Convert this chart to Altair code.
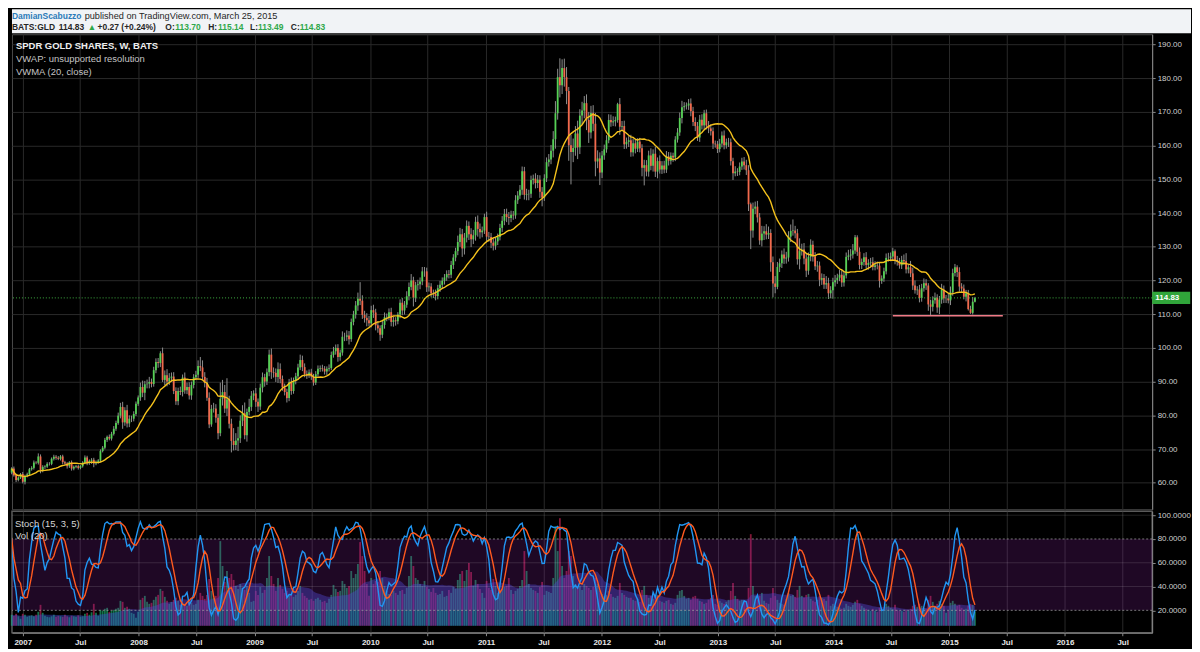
import altair as alt
import pandas as pd
import numpy as np

FONT = "Liberation Sans"

# ---------------- weekly GLD data ----------------
START_WEEK = "2006-11-27"
FIRST_OPEN = 63.0
LAST_PRICE = 114.83

CLOSE_2006 = [64.2, 62.2, 60.8, 61.5, 62.6]
CLOSE_2007 = [60.3, 62.0, 62.5, 64.0, 64.4, 66.0, 65.9, 67.8, 63.8, 64.7, 64.8, 65.6, 65.6,
              67.1, 67.7, 67.4, 67.1, 67.8, 66.1, 65.7, 64.9, 66.1, 64.2, 64.7, 64.9, 64.4,
              64.9, 66.0, 67.5, 65.8, 66.5, 66.8, 65.7, 66.1, 66.6, 69.4, 70.4, 72.7, 73.6,
              73.1, 74.5, 76.0, 77.7, 79.9, 82.5, 77.9, 81.5, 77.6, 79.0, 79.0, 80.4, 83.4, 85.3]
CLOSE_2008 = [88.4, 86.7, 89.2, 89.4, 89.9, 89.3, 93.4, 95.8, 95.5, 98.4, 90.5, 91.9, 90.0,
              91.1, 91.5, 87.2, 84.2, 87.2, 86.9, 91.2, 87.4, 88.4, 85.9, 89.0, 91.3, 92.0,
              94.6, 94.2, 91.4, 89.6, 85.2, 77.3, 81.9, 82.0, 79.3, 74.7, 84.9, 86.9, 82.0,
              84.7, 77.5, 72.4, 71.2, 72.5, 73.2, 78.4, 80.6, 74.1, 81.0, 82.5, 85.8, 86.5]
CLOSE_2009 = [84.0, 82.6, 88.2, 91.3, 90.0, 92.8, 98.0, 92.8, 92.6, 91.4, 93.7, 90.8, 88.3,
              86.9, 85.1, 89.8, 87.2, 90.2, 91.6, 94.2, 96.4, 94.3, 92.3, 91.9, 92.7, 91.5,
              89.7, 92.2, 93.8, 94.0, 93.8, 93.0, 93.8, 94.0, 97.9, 99.0, 100.0, 97.3, 98.6,
              103.3, 103.3, 103.7, 102.6, 107.7, 109.9, 112.6, 114.6, 114.0, 109.8, 108.9, 108.2, 107.3]
CLOSE_2010 = [111.2, 110.5, 106.7, 105.8, 103.9, 106.8, 109.1, 109.2, 110.6, 107.7, 108.2, 107.9, 109.9,
              113.4, 111.1, 112.8, 115.3, 118.1, 120.0, 114.9, 118.6, 118.9, 119.7, 122.7, 122.7, 118.0,
              118.2, 116.2, 116.1, 115.4, 117.7, 118.7, 119.9, 120.9, 121.9, 121.7, 124.6, 126.8, 128.7,
              131.4, 133.7, 129.5, 132.7, 136.2, 133.7, 132.2, 133.4, 137.4, 135.3, 134.3, 134.8, 138.8]
CLOSE_2011 = [133.0, 132.9, 131.2, 130.3, 131.6, 132.9, 135.6, 137.7, 139.7, 138.8, 138.5, 139.5, 139.3,
              143.8, 145.2, 146.9, 152.4, 145.4, 145.6, 145.7, 149.8, 150.2, 148.9, 149.9, 146.3, 144.6,
              150.3, 155.1, 155.9, 158.5, 161.9, 169.6, 180.3, 177.9, 183.0, 180.3, 176.2, 160.1, 158.1,
              159.3, 163.6, 159.5, 168.9, 170.4, 172.6, 167.6, 163.9, 169.7, 166.5, 155.3, 156.2, 152.0]
CLOSE_2012 = [157.1, 158.9, 161.6, 167.6, 166.9, 167.2, 167.6, 172.3, 165.6, 165.8, 160.4, 161.1, 161.6,
              158.0, 160.7, 159.1, 161.2, 159.2, 153.4, 154.2, 152.3, 157.1, 154.0, 157.6, 152.3, 155.4,
              152.9, 154.1, 152.9, 156.8, 155.5, 157.0, 156.5, 161.8, 163.9, 168.2, 171.4, 171.7, 171.9,
              172.5, 170.2, 167.0, 165.8, 162.4, 167.7, 166.0, 169.6, 166.0, 165.1, 164.3, 160.6, 160.4, 159.0]
CLOSE_2013 = [160.6, 163.0, 160.1, 161.0, 161.0, 155.4, 151.8, 152.3, 152.2, 153.8, 155.3, 154.2,
              152.7, 142.6, 134.8, 141.3, 141.9, 138.7, 131.9, 133.9, 134.6, 133.6, 134.1, 125.4, 119.1,
              118.1, 124.0, 125.1, 127.7, 126.5, 126.8, 133.0, 134.7, 134.8, 134.0, 126.3, 128.7, 129.2, 126.5,
              122.9, 127.0, 130.6, 127.1, 124.2, 124.4, 120.2, 120.7, 118.8, 119.2, 116.2, 117.1, 119.5]
CLOSE_2014 = [120.1, 120.8, 121.7, 119.4, 121.5, 127.0, 127.4, 127.7, 128.9, 132.8, 128.5, 124.6, 125.5,
              126.9, 124.6, 125.2, 125.4, 124.0, 124.5, 124.4, 119.9, 120.6, 122.7, 126.7, 126.7, 127.1,
              128.7, 126.0, 125.5, 124.5, 126.1, 125.7, 123.3, 123.9, 122.1, 118.5, 117.1, 117.3, 114.8,
              117.7, 119.2, 118.5, 112.9, 112.2, 114.1, 114.9, 112.0, 114.3, 117.3, 114.7, 114.7, 114.1]
CLOSE_2015 = [116.5, 122.2, 123.9, 122.5, 118.2, 117.6, 115.2, 116.2, 111.5, 110.4, 113.7, 114.83]

# upper / lower wick lengths beyond the candle body
UP_2006 = [0.4, 0.6, 0.5, 0.4, 0.3]
DN_2006 = [0.5, 0.4, 0.6, 0.4, 0.4]
UP_2007 = [0.6, 0.4, 0.5, 0.4, 0.5, 0.6, 0.4, 0.9, 0.6, 0.5, 0.4, 0.5, 0.5, 0.4, 0.6, 0.5, 0.5, 0.4,
           0.5, 0.4, 0.4, 0.3, 0.5, 0.4, 0.4, 0.5, 0.3, 0.4, 0.6, 0.5, 0.4, 0.5, 0.6, 0.5, 0.4, 0.5,
           0.5, 0.6, 0.4, 0.7, 0.6, 0.8, 0.7, 0.9, 1.2, 1.5, 0.9, 1.6, 1.0, 0.9, 0.8, 0.7, 0.6]
DN_2007 = [0.5, 0.8, 0.4, 0.5, 0.4, 0.5, 0.4, 0.5, 1.0, 0.7, 0.6, 0.4, 0.5, 0.4, 0.5, 0.6, 0.4, 0.5,
           0.6, 0.5, 0.7, 0.5, 0.6, 0.5, 0.4, 0.5, 0.4, 0.4, 0.5, 0.6, 0.5, 0.9, 1.1, 0.5, 0.4, 0.5,
           0.4, 0.5, 0.6, 0.5, 0.6, 0.5, 0.6, 0.5, 0.8, 1.9, 1.0, 1.2, 1.1, 1.0, 0.8, 0.6, 0.6]
UP_2008 = [1.3, 1.9, 1.0, 1.2, 1.5, 1.0, 1.0, 1.1, 1.2, 0.6, 1.7, 1.4, 1.8, 1.4, 1.2, 1.3, 1.1,
           1.0, 1.3, 0.9, 1.5, 1.3, 1.4, 1.0, 0.9, 1.2, 1.7, 2.7, 2.1, 1.4, 1.5, 1.6, 1.2, 1.7,
           1.3, 1.1, 4.8, 3.6, 2.1, 6.3, 1.1, 1.5, 3.8, 2.2, 3.4, 1.6, 2.4, 3.2, 1.0, 2.4, 1.4, 0.9]
DN_2008 = [1.0, 1.3, 2.2, 1.2, 1.4, 1.0, 0.8, 0.9, 1.4, 1.2, 0.6, 1.6, 1.4, 1.0, 1.2, 0.9, 1.1,
           1.2, 0.9, 1.3, 1.0, 1.1, 1.2, 1.3, 1.0, 0.8, 0.9, 1.1, 0.8, 1.3, 0.9, 1.1, 0.7, 1.1,
           1.5, 1.8, 0.9, 2.0, 1.3, 2.2, 1.4, 3.4, 1.6, 1.5, 3.1, 1.4, 1.6, 1.2, 1.9, 1.0, 1.2, 1.3]
UP_2009 = [1.6, 1.0, 1.2, 1.4, 1.0, 1.1, 1.5, 1.8, 1.4, 1.3, 2.0, 1.7, 1.0, 1.1, 1.0, 1.0, 1.4,
           1.0, 1.0, 1.1, 1.6, 1.3, 1.1, 1.0, 0.9, 1.1, 0.8, 0.9, 1.0, 0.8, 1.0, 0.8, 0.7, 1.1, 1.0,
           1.3, 1.0, 1.1, 0.9, 1.6, 1.2, 1.5, 1.3, 1.0, 1.1, 1.3, 1.8, 4.9, 1.6, 1.2, 1.4, 1.3]
DN_2009 = [1.5, 1.6, 1.0, 1.4, 1.5, 1.0, 1.2, 2.0, 1.4, 1.5, 1.8, 1.3, 1.0, 1.0, 1.3, 0.9, 1.1,
           0.8, 1.0, 0.9, 0.8, 1.2, 1.0, 1.1, 0.8, 1.0, 0.9, 0.7, 0.8, 0.9, 0.8, 0.9, 1.0, 0.8, 0.6,
           0.8, 1.0, 1.4, 1.1, 0.9, 1.3, 1.2, 1.6, 0.8, 1.0, 1.2, 1.6, 1.3, 1.2, 1.4, 1.8, 0.9]
UP_2010 = [1.3, 1.6, 1.1, 1.2, 0.9, 1.2, 1.4, 1.0, 1.1, 1.3, 1.0, 0.9, 0.7, 1.0, 1.4, 1.1, 1.5,
           1.3, 1.9, 1.1, 1.0, 1.3, 1.2, 1.3, 1.3, 1.1, 1.2, 1.0, 1.1, 1.2, 1.0, 1.2, 1.0, 1.0, 1.1,
           1.2, 1.2, 1.0, 1.0, 1.9, 1.9, 1.6, 1.4, 1.6, 1.3, 1.8, 1.6, 1.5, 1.9, 1.6, 1.2, 1.0]
DN_2010 = [1.2, 1.6, 1.5, 1.3, 1.8, 1.0, 1.1, 1.2, 1.0, 1.3, 1.4, 1.3, 0.9, 1.1, 1.4, 1.2, 0.9,
           1.2, 1.0, 2.6, 1.3, 1.6, 1.5, 1.1, 1.6, 1.4, 1.3, 1.2, 1.3, 1.3, 1.0, 1.1, 1.2, 1.1, 1.0,
           1.1, 1.0, 1.2, 1.1, 1.2, 1.4, 2.5, 1.8, 1.4, 1.7, 2.3, 1.4, 1.6, 2.3, 1.9, 1.5, 1.0]
UP_2011 = [1.6, 1.4, 1.2, 1.1, 1.2, 1.0, 1.2, 1.4, 1.5, 1.6, 1.5, 1.2, 1.1, 1.5, 1.3, 1.4, 1.4,
           1.3, 1.6, 1.2, 1.3, 1.2, 1.6, 1.4, 1.3, 1.4, 1.2, 1.4, 1.6, 1.7, 2.4, 3.6, 2.5, 5.6, 2.6,
           2.8, 3.0, 1.2, 3.1, 2.8, 2.2, 3.8, 1.9, 2.6, 2.1, 2.6, 2.4, 2.1, 2.3, 3.2, 2.4, 1.8]
DN_2011 = [1.3, 1.4, 1.6, 1.4, 1.2, 1.1, 1.0, 1.2, 1.3, 1.5, 2.0, 1.2, 1.3, 1.0, 1.1, 1.0, 1.5,
           1.4, 1.6, 1.8, 1.2, 1.3, 1.6, 1.5, 1.8, 2.6, 1.0, 1.1, 1.3, 1.4, 2.0, 2.8, 1.9, 3.6, 2.6,
           2.8, 3.9, 4.6, 9.6, 3.0, 2.3, 3.5, 2.0, 2.6, 2.3, 3.0, 3.1, 1.8, 2.2, 4.4, 2.0, 3.7]
UP_2012 = [1.3, 1.4, 1.5, 1.7, 1.6, 1.5, 1.0, 0.4, 1.8, 1.5, 1.6, 1.3, 1.2, 1.6, 1.4, 1.2, 1.0, 1.1,
           1.2, 1.6, 1.5, 1.4, 2.1, 1.3, 2.0, 1.1, 1.7, 1.3, 1.4, 1.6, 1.3, 1.0, 0.9, 1.0, 1.3,
           1.6, 1.9, 1.2, 0.9, 1.3, 1.5, 1.3, 1.4, 1.2, 1.4, 1.6, 1.0, 1.1, 1.3, 1.2, 1.1, 0.9, 1.0]
DN_2012 = [1.6, 1.3, 1.0, 0.9, 1.3, 1.1, 1.5, 0.8, 2.4, 1.2, 1.4, 1.3, 1.5, 1.3, 1.2, 1.4, 1.0, 1.2,
           2.5, 5.2, 1.4, 1.5, 1.3, 1.7, 1.6, 2.0, 1.2, 1.3, 1.1, 1.0, 1.4, 1.1, 1.3, 1.1, 0.9,
           1.0, 1.6, 1.2, 1.0, 1.3, 1.5, 1.2, 1.5, 1.0, 1.3, 1.2, 1.1, 1.2, 1.4, 1.3, 1.6, 1.0, 1.2]
UP_2013 = [1.4, 1.2, 1.5, 1.1, 1.3, 1.1, 1.0, 1.6, 1.0, 1.2, 1.1, 1.3, 1.6, 1.5, 0.5, 1.8, 1.5,
           1.7, 1.3, 2.3, 1.5, 2.1, 1.9, 1.1, 1.7, 2.2, 1.5, 1.4, 1.2, 1.8, 1.7, 1.6, 1.9, 3.3,
           1.4, 1.3, 3.8, 1.7, 1.9, 1.6, 1.3, 1.6, 1.2, 1.3, 1.4, 1.2, 1.4, 1.2, 2.1, 1.6, 1.2, 1.3]
DN_2013 = [1.0, 1.1, 1.2, 1.0, 1.4, 1.3, 2.0, 0.9, 1.2, 1.0, 1.0, 1.3, 1.4, 2.0, 5.5, 2.1, 1.6,
           1.5, 1.3, 1.8, 1.9, 1.4, 1.3, 2.8, 4.1, 1.9, 0.7, 1.5, 1.4, 1.6, 1.5, 1.2, 1.6, 1.4,
           1.5, 1.6, 3.0, 1.3, 1.7, 1.9, 1.2, 1.3, 1.5, 1.1, 1.6, 1.9, 1.5, 1.3, 1.3, 1.7, 1.5, 2.5]
UP_2014 = [1.5, 1.2, 1.4, 1.3, 1.0, 1.3, 1.7, 1.6, 1.9, 0.7, 0.6, 1.3, 1.0, 1.2, 1.5, 1.1, 1.3,
           1.5, 1.2, 1.1, 1.0, 0.9, 1.1, 1.3, 1.5, 1.2, 1.0, 0.5, 1.3, 1.2, 1.2, 1.6, 2.4, 1.0,
           1.9, 1.7, 1.5, 1.0, 1.4, 1.3, 1.4, 1.2, 0.7, 1.4, 1.2, 1.5, 1.0, 1.1, 1.7, 1.2, 1.0, 1.4]
DN_2014 = [1.3, 1.1, 1.0, 1.3, 1.2, 0.9, 1.0, 1.4, 1.2, 1.0, 1.2, 1.3, 1.2, 1.1, 1.2, 1.4, 1.2,
           1.0, 1.0, 1.1, 2.0, 0.9, 1.0, 0.9, 1.1, 1.0, 1.2, 1.2, 1.1, 1.0, 1.1, 1.0, 1.2, 1.2,
           1.1, 1.3, 1.0, 1.4, 1.3, 1.1, 1.0, 1.3, 1.9, 2.7, 1.4, 1.0, 1.6, 2.0, 1.2, 1.4, 1.4, 0.9]
UP_2015 = [1.7, 1.3, 1.0, 0.6, 1.4, 1.0, 1.2, 1.0, 1.0, 1.0, 1.4, 0.31]
DN_2015 = [1.4, 1.0, 1.0, 1.5, 1.5, 1.1, 0.8, 1.4, 0.4, 0.3, 0.5, 0.21]

# weekly volume, millions of shares
VOL_2006 = [22, 20, 24, 19, 14]
VOL_2007 = [24, 22, 18, 20, 21, 19, 22, 28, 42, 26, 20, 18, 17, 19, 22, 18, 20, 19, 18, 22, 19, 17,
            20, 19, 18, 21, 18, 19, 24, 26, 22, 27, 44, 26, 20, 32, 30, 34, 36, 28, 30, 32, 34, 36,
            50, 48, 36, 38, 34, 26, 24, 16, 28]
VOL_2008 = [52, 56, 60, 48, 44, 46, 52, 58, 62, 74, 70, 58, 50, 44, 48, 52, 56, 50, 42, 46, 44,
            40, 48, 46, 42, 44, 52, 66, 60, 54, 62, 94, 70, 56, 60, 96, 170, 120, 88, 110, 96, 104, 92,
            80, 74, 84, 76, 72, 80, 66, 48, 50]
VOL_2009 = [70, 62, 78, 66, 72, 96, 140, 100, 84, 70, 96, 82, 74, 66, 70, 60, 62, 58, 62, 70, 80,
            66, 60, 56, 52, 54, 50, 54, 56, 52, 48, 50, 46, 54, 62, 82, 74, 68, 70, 90, 84, 76, 80,
            110, 96, 104, 124, 168, 140, 110, 84, 60]
VOL_2010 = [96, 84, 90, 88, 110, 96, 80, 70, 64, 62, 70, 66, 62, 70, 72, 64, 76, 100, 140, 120, 96, 92,
            84, 80, 90, 78, 74, 68, 76, 66, 62, 64, 70, 58, 60, 72, 66, 78, 74, 92, 104, 110, 90,
            112, 126, 108, 80, 92, 84, 74, 66, 56]
VOL_2011 = [90, 76, 72, 94, 80, 66, 70, 74, 78, 80, 96, 72, 64, 70, 74, 80, 92, 150, 110, 84, 76, 72,
            70, 66, 78, 88, 62, 70, 68, 66, 96, 200, 150, 216, 120, 96, 110, 150, 140,
            100, 84, 76, 80, 72, 84, 80, 76, 72, 78, 96, 84, 70]
VOL_2012 = [64, 60, 62, 70, 64, 58, 56, 60, 86, 66, 62, 58, 56, 56, 52, 50, 54, 48, 72, 80, 62, 56,
            60, 54, 58, 62, 50, 48, 46, 50, 52, 44, 42, 46, 62, 70, 72, 60, 54, 56, 52, 58, 60, 54,
            50, 48, 44, 46, 52, 56, 62, 44, 42]
VOL_2013 = [50, 46, 44, 48, 52, 70, 86, 60, 54, 50, 52, 48, 50, 76, 184, 80, 60, 52, 60, 66, 50,
            46, 44, 56, 76, 60, 52, 46, 44, 42, 54, 66, 60, 62, 58, 72, 80, 60, 56, 62, 64, 54, 50,
            48, 52, 60, 56, 54, 50, 62, 40, 44]
VOL_2014 = [40, 38, 36, 34, 36, 44, 40, 38, 42, 48, 52, 44, 40, 36, 34, 32, 30, 34, 30, 28, 36,
            32, 30, 44, 40, 36, 34, 42, 32, 30, 30, 28, 32, 30, 34, 40, 42, 38, 44, 40, 36, 34, 52,
            60, 48, 40, 44, 50, 44, 40, 26, 30]
VOL_2015 = [46, 50, 44, 40, 42, 36, 32, 34, 40, 44, 42, 28]

YEARS = [
    (CLOSE_2006, UP_2006, DN_2006, VOL_2006), (CLOSE_2007, UP_2007, DN_2007, VOL_2007),
    (CLOSE_2008, UP_2008, DN_2008, VOL_2008), (CLOSE_2009, UP_2009, DN_2009, VOL_2009),
    (CLOSE_2010, UP_2010, DN_2010, VOL_2010), (CLOSE_2011, UP_2011, DN_2011, VOL_2011),
    (CLOSE_2012, UP_2012, DN_2012, VOL_2012), (CLOSE_2013, UP_2013, DN_2013, VOL_2013),
    (CLOSE_2014, UP_2014, DN_2014, VOL_2014), (CLOSE_2015, UP_2015, DN_2015, VOL_2015),
]
for i, (c, u, d, v) in enumerate(YEARS):
    assert len(c) == len(u) == len(d) == len(v), (2006 + i, len(c), len(u), len(d), len(v))

close = [x for y in YEARS for x in y[0]]
wup = [x for y in YEARS for x in y[1]]
wdn = [x for y in YEARS for x in y[2]]
vol = [x for y in YEARS for x in y[3]]
opens = [FIRST_OPEN] + close[:-1]

df = pd.DataFrame({
    "date": pd.date_range(START_WEEK, periods=len(close), freq="W-MON"),
    "open": opens, "close": close, "vol": vol,
})
df["high"] = np.maximum(df["open"], df["close"]) + np.array(wup)
df["low"] = np.minimum(df["open"], df["close"]) - np.array(wdn)
up = df["close"] >= df["open"]
df["body"] = np.where(up, "#55d155", "#f2694c")
df["vcol"] = np.where(up, "#1fbf7a", "#d8285c")
df["zero"] = 0.0
# indicators named in the chart legend
hh = df["high"].rolling(15, min_periods=1).max()
ll = df["low"].rolling(15, min_periods=1).min()
raw = 100 * (df["close"] - ll) / (hh - ll)
df["k"] = raw.rolling(3, min_periods=1).mean()
df["d"] = df["k"].rolling(5, min_periods=1).mean()
df["vwma"] = (df["close"] * df["vol"]).rolling(20, min_periods=1).sum() / df["vol"].rolling(20, min_periods=1).sum()
df["vma"] = df["vol"].rolling(20, min_periods=1).mean()

SUPPORT_LEVEL = 109.5
SUPPORT_FROM, SUPPORT_TO = "2014-07-07", "2015-06-19"

# ---------------- scales / axes ----------------
X_SCALE = alt.Scale(domain=[alt.DateTime(year=2006, month=11, date=28),
                            alt.DateTime(year=2016, month=10, date=2)], nice=False, padding=0)
TICKS = [alt.DateTime(year=y, month=m, date=1) for y in range(2007, 2017) for m in (1, 7)]
GRID = "#292929"
AXC = "#8a8a8a"
P_SCALE = alt.Scale(domain=[52.14, 193.04], nice=False, zero=False, padding=0)
S_SCALE = alt.Scale(domain=[1.17, 103.35], nice=False, zero=False, padding=0)
V_SCALE = alt.Scale(domain=[-14, 230], nice=False, zero=False, padding=0)

AX_XP = alt.Axis(values=TICKS, grid=True, gridColor=GRID, labels=False, ticks=False, domain=False, title=None)
AX_XS = alt.Axis(
    values=TICKS, grid=True, gridColor=GRID, title=None, domainColor=AXC, tickColor=AXC, tickSize=3,
    labelExpr="month(datum.value) == 0 ? timeFormat(datum.value, '%Y') : 'Jul'",
    labelColor="#e8e8e8", labelFontSize=8, labelFontWeight="bold", labelPadding=3, labelFont=FONT,
    labelFlush=False, labelOverlap=False)
AX_P = alt.Axis(orient="right", values=list(range(60, 200, 10)), format=".2f", grid=True, gridColor=GRID,
                domainColor=AXC, tickColor=AXC, tickSize=3, labelColor="#cfcfcf", labelFontSize=8,
                labelPadding=2, labelFont=FONT, title=None)
AX_S = alt.Axis(orient="right", values=[20, 40, 60, 80, 100], format=".4f", grid=False,
                domainColor=AXC, tickColor=AXC, tickSize=3, labelColor="#cfcfcf", labelFontSize=8,
                labelPadding=2, labelFont=FONT, title=None)


def xp(f):
    return alt.X(f, scale=X_SCALE, axis=AX_XP)


def xs(f):
    return alt.X(f, scale=X_SCALE, axis=AX_XS)


def yp(f):
    return alt.Y(f, scale=P_SCALE, axis=AX_P)


def ys(f):
    return alt.Y(f, scale=S_SCALE, axis=AX_S)


def txt(s, x, y, size=9.5, color="#c8c8c8", weight="normal"):
    return alt.Chart(pd.DataFrame({"t": [s]})).mark_text(
        align="left", baseline="middle", fontSize=size, fontWeight=weight, color=color, font=FONT
    ).encode(text="t:N", x=alt.value(x), y=alt.value(y))


# ---------------- header ----------------
DARK, GREEN, BLUE = "#262626", "#2fa84a", "#2a7ab9"
HEAD_1 = [("DamianScabuzzo", 6, BLUE, "bold", 8.5),
          ("published on TradingView.com, March 25, 2015", 79, DARK, "normal", 9.2)]
HEAD_2 = [("BATS:GLD", 6, DARK), ("114.83", 53, DARK), ("\u25b2", 82, GREEN), ("+0.27 (+0.24%)", 92, DARK),
          ("O:", 160, DARK), ("113.70", 170, GREEN), ("H:", 203, DARK), ("115.14", 213, GREEN),
          ("L:", 245, DARK), ("113.49", 253, GREEN), ("C:", 286, DARK), ("114.83", 295, GREEN)]
head_layers = [txt(s, x - 6, 6.5, sz, c, w) for s, x, c, w, sz in HEAD_1]
head_layers += [txt(s, x - 6, 18, 8.5, c, "bold") for s, x, c in HEAD_2]
header = alt.layer(*head_layers).properties(
    width=1184, height=24, view=alt.ViewBackground(fill="#f1f3f6", strokeWidth=0))

# ---------------- price panel ----------------
base = alt.Chart(df)
wicks = base.mark_rule(color="#8e8e8e", strokeWidth=1).encode(x=xp("date:T"), y=yp("low:Q"), y2="high:Q")
bodies = base.mark_bar(size=1.8).encode(
    x=xp("date:T"), y=yp("open:Q"), y2="close:Q", color=alt.Color("body:N", scale=None))
vwma = base.mark_line(color="#f5c21c", strokeWidth=1.4).encode(x=xp("date:T"), y=yp("vwma:Q"))
last_line = alt.Chart(pd.DataFrame({"p": [LAST_PRICE]})).mark_rule(
    color="#3fb043", strokeDash=[1, 2], strokeWidth=1).encode(y=yp("p:Q"))
support = alt.Chart(pd.DataFrame({"t0": [pd.Timestamp(SUPPORT_FROM)], "t1": [pd.Timestamp(SUPPORT_TO)],
                                  "p": [SUPPORT_LEVEL]})).mark_rule(color="#f07a86", strokeWidth=1.5).encode(
    x=xp("t0:T"), x2="t1:T", y=yp("p:Q"))
tag_df = pd.DataFrame({"t0": [pd.Timestamp("2016-10-02")], "t1": [pd.Timestamp("2017-01-30")],
                       "tt": [pd.Timestamp("2016-10-12")],
                       "p0": [LAST_PRICE - 1.8], "p1": [LAST_PRICE + 1.8], "p": [LAST_PRICE],
                       "s": [f"{LAST_PRICE:.2f}"]})
tag_box = alt.Chart(tag_df).mark_rect(color="#30a53a").encode(
    x=xp("t0:T"), x2="t1:T", y=yp("p0:Q"), y2="p1:Q")
tag_txt = alt.Chart(tag_df).mark_text(align="left", baseline="middle", fontSize=8, fontWeight="bold",
                                      color="#ffffff", font=FONT).encode(
    x=xp("tt:T"), y=yp("p:Q"), text="s:N")

price = alt.layer(
    wicks, bodies, vwma, last_line, support, tag_box, tag_txt,
    txt("SPDR GOLD SHARES, W, BATS", 4, 12, 9.5, "#eeeeee", "bold"),
    txt("VWAP: unsupported resolution", 4, 25, 9.5, "#c4c4c4"),
    txt("VWMA (20, close)", 4, 38, 9.5, "#c4c4c4"),
).properties(width=1145, height=477,
             view=alt.ViewBackground(fill="#000000", stroke="#4a4a4a", strokeWidth=1))

# ---------------- stochastic + volume panel ----------------
vbars = base.mark_bar(size=1.8, opacity=0.6).encode(
    x=xs("date:T"), y=alt.Y("vol:Q", scale=V_SCALE, axis=None), y2="zero:Q",
    color=alt.Color("vcol:N", scale=None))
vma = base.mark_area(color="#3d50d8", opacity=0.42).encode(
    x=xs("date:T"), y=alt.Y("vma:Q", scale=V_SCALE, axis=None), y2="zero:Q")
vol_layer = alt.layer(vbars, vma)

band = alt.Chart(pd.DataFrame({"a": [20], "b": [80]})).mark_rect(color="#8e24aa", opacity=0.22).encode(
    y=ys("a:Q"), y2="b:Q")
lv_solid = alt.Chart(pd.DataFrame({"lvl": [40, 60, 100]})).mark_rule(
    color="#ffffff", opacity=0.13, strokeWidth=1).encode(y=ys("lvl:Q"))
lv_dash = alt.Chart(pd.DataFrame({"lvl": [20, 80]})).mark_rule(
    color="#a0a0a0", opacity=0.75, strokeDash=[2, 2], strokeWidth=1).encode(y=ys("lvl:Q"))
k_line = base.mark_line(color="#2196f3", strokeWidth=1.4, clip=True).encode(x=xs("date:T"), y=ys("k:Q"))
d_line = base.mark_line(color="#ff5a1f", strokeWidth=1.4, clip=True).encode(x=xs("date:T"), y=ys("d:Q"))
st_layer = alt.layer(band, lv_solid, lv_dash, k_line, d_line,
                     txt("Stoch (15, 3, 5)", 3, 13, 9.5, "#d6d6d6"),
                     txt("Vol (20)", 3, 25, 9.5, "#d6d6d6"))

stoch = alt.layer(vol_layer, st_layer).resolve_scale(y="independent").properties(
    width=1145, height=122, view=alt.ViewBackground(fill="#000000", stroke="#5a5a5a", strokeWidth=1.5))

chart = alt.vconcat(header, price, stoch, spacing=0).resolve_scale(
    x="independent", y="independent").properties(background="#000000", padding=0).configure(font=FONT)

chart.save("out.html", embed_options={"renderer": "svg", "actions": False})
